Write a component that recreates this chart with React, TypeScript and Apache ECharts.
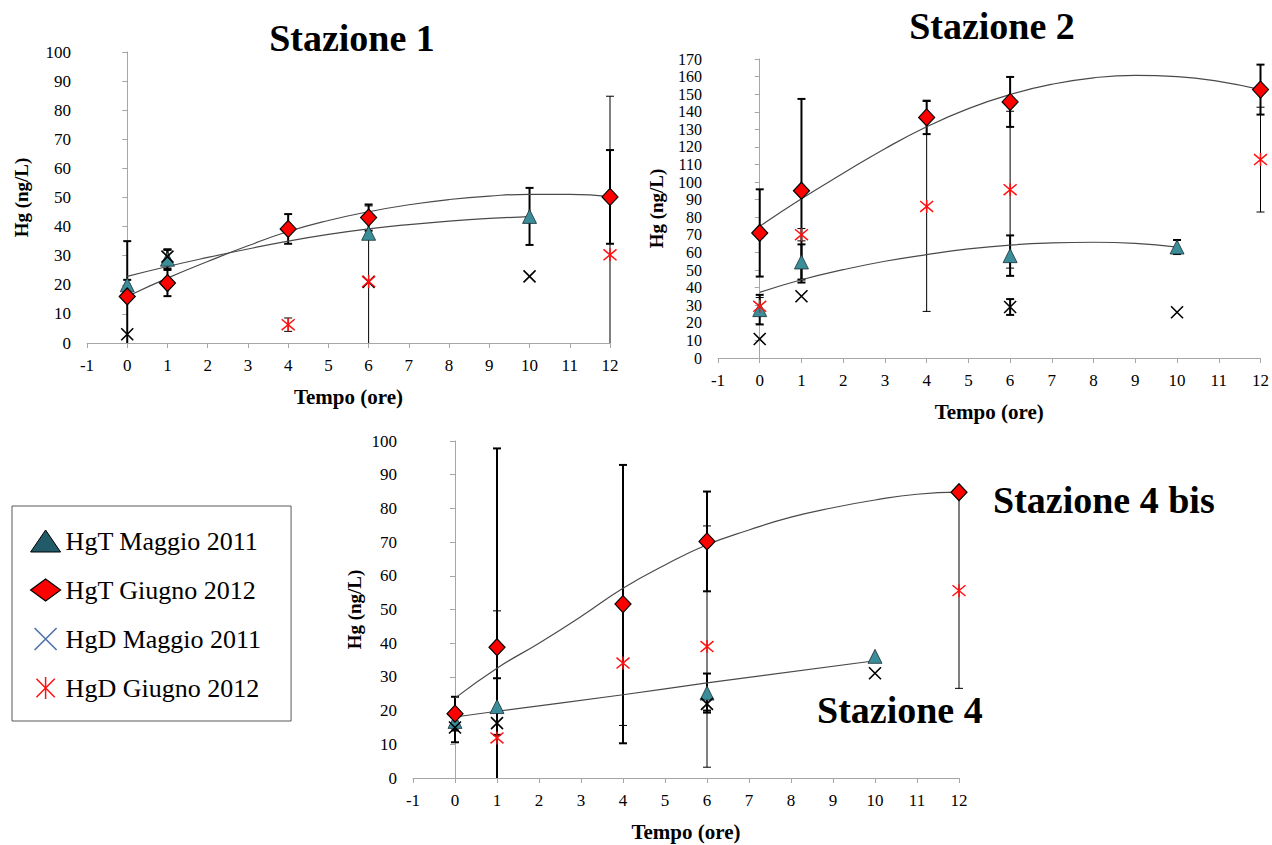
import { useEffect, useRef } from 'react';
import * as echarts from 'echarts';

// ---------- shared axis ----------
const xMin = -1;
const xMax = 12;
const yMax1 = 100;
const yMax2 = 170;
const yMax3 = 100;

const legendNames = ['HgT Maggio 2011', 'HgT Giugno 2012', 'HgD Maggio 2011', 'HgD Giugno 2012'];
const panelTitles = ['Stazione 1', 'Stazione 2', 'Stazione 4 bis', 'Stazione 4'];
const xAxisName = 'Tempo (ore)';
const yAxisName = 'Hg (ng/L)';

// ---------- Stazione 1 ----------
const s1TMagX = [0, 1, 6, 10];
const s1TMagY = [20, 28.8, 37.7, 43.5];
const s1TMagErr = [1.7, 3.2, 0, 9.8];
const s1TGiuX = [0, 1, 4, 6, 12];
const s1TGiuY = [16, 20.6, 39.2, 43.1, 50.2];
const s1TGiuErr = [19, 4.5, 5.1, 4.5, 16.1];
const s1DMagX = [0, 1, 6, 10];
const s1DMagY = [3, 29.7, 21, 22.9];
const s1DMagErr = [0, 2.5, 0, 0];
const s1DGiuX = [4, 6, 12];
const s1DGiuY = [6.3, 21.1, 30.3];
const s1DGiuErr = [2.3, 26, 54.5];
const s1TrendMagX = [0, 1, 2, 3, 4, 5, 6, 7, 8, 9, 10];
const s1TrendMagY = [22.9, 26.3, 29.4, 32.3, 35.0, 37.3, 39.2, 40.7, 41.9, 42.8, 43.4];
const s1TrendGiuX = [0, 1, 2, 3, 4, 5, 6, 7, 8, 9, 10, 11, 12];
const s1TrendGiuY = [16, 22.3, 28, 33.4, 38.3, 42.1, 45.1, 47.5, 49.3, 50.5, 51.1, 51.1, 50.3];

// ---------- Stazione 2 ----------
const s2TMagX = [0, 1, 6, 10];
const s2TMagY = [27.5, 54.6, 58.2, 63.1];
const s2TMagErr = [8.4, 10, 11.5, 4];
const s2TGiuX = [0, 1, 4, 6, 12];
const s2TGiuY = [71.1, 95.1, 136.8, 145.6, 152.6];
const s2TGiuErr = [24.8, 52.2, 9.5, 14.2, 14.2];
const s2DMagX = [0, 1, 6, 10];
const s2DMagY = [10.8, 35.1, 29, 26];
const s2DMagErr = [0, 0, 4.5, 0];
const s2DGiuX = [0, 1, 4, 6, 12];
const s2DGiuY = [29.4, 70.1, 86.2, 95.7, 112.8];
const s2DGiuErr = [5, 3.5, 59.7, 44.6, 29.8];
const s2TrendMagX = [0, 1, 2, 3, 4, 5, 6, 7, 8, 9, 10];
const s2TrendMagY = [37.3, 44.5, 50.2, 55, 58.8, 62, 64.2, 65.4, 65.8, 65.2, 63];
const s2TrendGiuX = [0, 1, 2, 3, 4, 5, 6, 7, 8, 9, 10, 11, 12];
const s2TrendGiuY = [74.9, 90.5, 105, 119, 131.5, 141.8, 149.8, 155.6, 159.3, 160.7, 160, 157.3, 152.6];

// ---------- Stazione 4 / 4 bis ----------
const s4TMagX = [0, 1, 6, 10];
const s4TMagY = [16.8, 21.2, 25.2, 36.1];
const s4TMagErr = [0, 8.4, 5.8, 0];
const s4TGiuX = [0, 1, 4, 6, 12];
const s4TGiuY = [19.1, 38.8, 51.6, 70.2, 84.8];
const s4TGiuErr = [5, 59, 41.3, 14.8, 0];
const s4DMagX = [0, 1, 6, 10];
const s4DMagY = [15, 16.3, 22, 31.1];
const s4DMagErr = [4.4, 0, 2, 0];
const s4DGiuX = [1, 4, 6, 12];
const s4DGiuY = [11.9, 34.1, 39, 55.6];
const s4DGiuErr = [37.7, 18.5, 35.8, 29];
const s4TrendMagX = [0, 1, 4, 6, 10];
const s4TrendMagY = [18.1, 19.8, 24.7, 28.2, 34.8];
const s4TrendGiuX = [0, 1, 2, 3, 4, 5, 6, 7, 8, 9, 10, 11, 12];
const s4TrendGiuY = [23.7, 32.6, 40, 47.9, 56.3, 63.2, 69.2, 73.6, 77.4, 80.2, 82.5, 84.2, 84.8];

const FONT = 'Liberation Serif, serif';
const X_PATH = 'path://M0 0L10 10M10 0L0 10';
const STAR_PATH = 'path://M0 0L10 10M10 0L0 10M5 -1L5 11';

const pairs = (xs: number[], ys: number[]) => xs.map((x, i) => [x, ys[i]]);

function errorSeries(gi: number, xs: number[], ys: number[], errs: number[], lw: number) {
  const data = xs
    .map((x, i) => (errs[i] > 0 ? [x, ys[i] - errs[i], ys[i] + errs[i]] : null))
    .filter((d) => d !== null);
  const cap = 4;
  return {
    type: 'custom',
    name: 'err' + gi,
    xAxisIndex: gi,
    yAxisIndex: gi,
    z: 2,
    silent: true,
    encode: { x: 0, y: [1, 2] },
    data,
    renderItem: (_params: any, api: any) => {
      const x = api.value(0);
      const lo = api.value(1);
      const hi = api.value(2);
      const pHi = api.coord([x, hi]);
      const pLo = api.coord([x, Math.max(lo, 0)]);
      const st = { stroke: '#000', lineWidth: lw };
      const children: any[] = [
        { type: 'line', shape: { x1: pHi[0], y1: pHi[1], x2: pLo[0], y2: pLo[1] }, style: st },
        { type: 'line', shape: { x1: pHi[0] - cap, y1: pHi[1], x2: pHi[0] + cap, y2: pHi[1] }, style: st },
      ];
      if (lo >= 0) {
        children.push({ type: 'line', shape: { x1: pLo[0] - cap, y1: pLo[1], x2: pLo[0] + cap, y2: pLo[1] }, style: st });
      }
      return { type: 'group', children };
    },
  };
}

function trendSeries(gi: number, xs: number[], ys: number[]) {
  return {
    type: 'line',
    name: 'trend' + gi,
    xAxisIndex: gi,
    yAxisIndex: gi,
    data: pairs(xs, ys),
    smooth: true,
    showSymbol: false,
    silent: true,
    z: 3,
    lineStyle: { color: '#4a4a4a', width: 1.2 },
  };
}

function scatter(gi: number, kind: number, xs: number[], ys: number[]) {
  const base: any = {
    type: 'scatter',
    name: legendNames[kind],
    xAxisIndex: gi,
    yAxisIndex: gi,
    data: pairs(xs, ys),
    z: 4,
  };
  if (kind === 0) {
    base.symbol = 'triangle';
    base.symbolSize = 14;
    base.itemStyle = { color: '#3B8D9A', borderColor: '#1c2f33', borderWidth: 0.8, opacity: 1 };
  } else if (kind === 1) {
    base.symbol = 'diamond';
    base.symbolSize = [16, 17];
    base.itemStyle = { color: '#FF0000', borderColor: '#000', borderWidth: 1.2, opacity: 1 };
  } else if (kind === 2) {
    base.symbol = X_PATH;
    base.symbolSize = 12;
    base.itemStyle = { color: 'none', borderColor: '#000', borderWidth: 1.6, opacity: 1 };
  } else {
    base.symbol = STAR_PATH;
    base.symbolSize = 13;
    base.itemStyle = { color: 'none', borderColor: '#FF1010', borderWidth: 1.5, opacity: 1 };
  }
  return base;
}

function panelSeries(gi: number, d: any) {
  return [
    errorSeries(gi, d.tMagX, d.tMagY, d.tMagErr, 2),
    errorSeries(gi, d.tGiuX, d.tGiuY, d.tGiuErr, 2),
    errorSeries(gi, d.dMagX, d.dMagY, d.dMagErr, 2),
    errorSeries(gi, d.dGiuX, d.dGiuY, d.dGiuErr, 1),
    trendSeries(gi, d.trMagX, d.trMagY),
    trendSeries(gi, d.trGiuX, d.trGiuY),
    scatter(gi, 0, d.tMagX, d.tMagY),
    scatter(gi, 1, d.tGiuX, d.tGiuY),
    scatter(gi, 2, d.dMagX, d.dMagY),
    scatter(gi, 3, d.dGiuX, d.dGiuY),
  ];
}

const axisGray = '#A6A6A6';

function xAxis(gi: number) {
  return {
    type: 'value',
    gridIndex: gi,
    min: xMin,
    max: xMax,
    interval: 1,
    name: xAxisName,
    nameLocation: 'middle',
    nameGap: 43,
    nameTextStyle: { fontFamily: FONT, fontSize: 21, fontWeight: 'bold', color: '#000' },
    axisLine: { show: true, onZero: false, lineStyle: { color: axisGray, width: 1 } },
    axisTick: { show: true, length: 5, lineStyle: { color: axisGray } },
    axisLabel: { fontFamily: FONT, fontSize: 17, color: '#000', margin: 14 },
    splitLine: { show: false },
  };
}

function yAxis(gi: number, max: number, nameGap: number, fs: number) {
  return {
    type: 'value',
    gridIndex: gi,
    min: 0,
    max,
    interval: 10,
    name: yAxisName,
    nameLocation: 'middle',
    nameGap,
    nameRotate: 90,
    nameTextStyle: { fontFamily: FONT, fontSize: 19, fontWeight: 'bold', color: '#000' },
    axisLine: { show: true, lineStyle: { color: axisGray, width: 1 } },
    axisTick: { show: true, length: 5, lineStyle: { color: axisGray } },
    axisLabel: { fontFamily: FONT, fontSize: fs, color: '#000', margin: 16 },
    splitLine: { show: false },
  };
}

export default function App() {
  const ref = useRef<HTMLDivElement>(null);

  useEffect(() => {
    if (!ref.current) return;
    const chart = echarts.init(ref.current, null, { renderer: 'svg' });

    const p1 = {
      tMagX: s1TMagX, tMagY: s1TMagY, tMagErr: s1TMagErr,
      tGiuX: s1TGiuX, tGiuY: s1TGiuY, tGiuErr: s1TGiuErr,
      dMagX: s1DMagX, dMagY: s1DMagY, dMagErr: s1DMagErr,
      dGiuX: s1DGiuX, dGiuY: s1DGiuY, dGiuErr: s1DGiuErr,
      trMagX: s1TrendMagX, trMagY: s1TrendMagY, trGiuX: s1TrendGiuX, trGiuY: s1TrendGiuY,
    };
    const p2 = {
      tMagX: s2TMagX, tMagY: s2TMagY, tMagErr: s2TMagErr,
      tGiuX: s2TGiuX, tGiuY: s2TGiuY, tGiuErr: s2TGiuErr,
      dMagX: s2DMagX, dMagY: s2DMagY, dMagErr: s2DMagErr,
      dGiuX: s2DGiuX, dGiuY: s2DGiuY, dGiuErr: s2DGiuErr,
      trMagX: s2TrendMagX, trMagY: s2TrendMagY, trGiuX: s2TrendGiuX, trGiuY: s2TrendGiuY,
    };
    const p3 = {
      tMagX: s4TMagX, tMagY: s4TMagY, tMagErr: s4TMagErr,
      tGiuX: s4TGiuX, tGiuY: s4TGiuY, tGiuErr: s4TGiuErr,
      dMagX: s4DMagX, dMagY: s4DMagY, dMagErr: s4DMagErr,
      dGiuX: s4DGiuX, dGiuY: s4DGiuY, dGiuErr: s4DGiuErr,
      trMagX: s4TrendMagX, trMagY: s4TrendMagY, trGiuX: s4TrendGiuX, trGiuY: s4TrendGiuY,
    };

    const titleStyle = (text: string, x: number, y: number, align: string) => ({
      type: 'text',
      x,
      y,
      silent: true,
      style: {
        text,
        fontFamily: FONT,
        fontSize: 38,
        fontWeight: 'bold',
        fill: '#000',
        textAlign: align,
        textVerticalAlign: 'middle',
      },
    });

    chart.setOption({
      animation: false,
      backgroundColor: '#ffffff',
      grid: [
        { left: 87, top: 52, width: 523, height: 291 },
        { left: 718, top: 59, width: 544, height: 299 },
        { left: 413, top: 441, width: 546, height: 337 },
      ],
      xAxis: [xAxis(0), xAxis(1), xAxis(2)],
      yAxis: [yAxis(0, yMax1, 56, 17), yAxis(1, yMax2, 52, 16), yAxis(2, yMax3, 49, 17)],
      legend: {
        orient: 'vertical',
        left: 12,
        top: 506,
        padding: [21, 30, 19, 18],
        itemWidth: 30,
        itemHeight: 22,
        itemGap: 21,
        borderColor: '#595959',
        borderWidth: 1,
        backgroundColor: '#fff',
        selectedMode: false,
        textStyle: { fontFamily: FONT, fontSize: 26, color: '#000', lineHeight: 28 },
        data: [
          { name: legendNames[0], itemStyle: { color: '#215A68', borderColor: '#000', borderWidth: 1 } },
          { name: legendNames[1], itemStyle: { color: '#FF0000', borderColor: '#000', borderWidth: 1.2 } },
          { name: legendNames[2], itemStyle: { borderColor: '#4F72A8', borderWidth: 1.6 } },
          { name: legendNames[3], itemStyle: { borderColor: '#FF1010', borderWidth: 1.5 } },
        ],
      },
      graphic: [
        titleStyle(panelTitles[0], 352, 38, 'center'),
        titleStyle(panelTitles[1], 992, 26, 'center'),
        titleStyle(panelTitles[2], 993, 500, 'left'),
        titleStyle(panelTitles[3], 817, 710, 'left'),
      ],
      series: [...panelSeries(0, p1), ...panelSeries(1, p2), ...panelSeries(2, p3)],
    });

    return () => chart.dispose();
  }, []);

  return (
    <div
      ref={ref}
      style={{ position: 'absolute', left: 0, top: 0, width: 1272, height: 845, background: '#fff' }}
    />
  );
}
